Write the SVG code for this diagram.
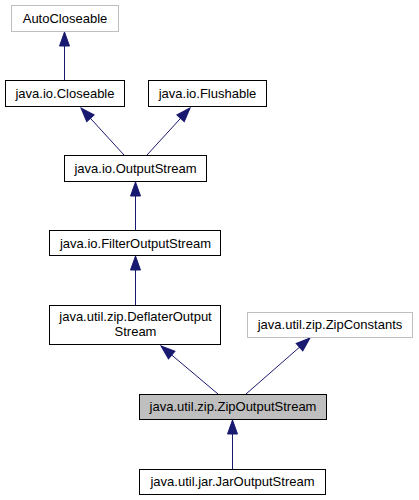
<svg xmlns="http://www.w3.org/2000/svg" width="419" height="500" viewBox="0 0 419 500">
<style>
  .box { fill: #ffffff; stroke: #000000; stroke-width: 1; }
  .ext { fill: #ffffff; stroke: #bfbfbf; stroke-width: 1; }
  .cur { fill: #bfbfbf; stroke: #000000; stroke-width: 1; }
  text { font-family: "Liberation Sans", Arial, sans-serif; font-size: 13px; fill: #000000; text-anchor: middle; }
  .edge { stroke: #191970; stroke-width: 1; fill: none; marker-end: url(#arr); }
</style>
<defs>
  <marker id="arr" markerUnits="userSpaceOnUse" markerWidth="16" markerHeight="12" viewBox="-15 -6 16 12" refX="0" refY="0" orient="auto">
    <path d="M0,0 L-14,-5 L-14,5 Z" fill="#191970" stroke="#191970" stroke-width="1"/>
  </marker>
</defs>
<rect width="419" height="500" fill="#ffffff"/>
<g id="connectors">
  <path class="edge" d="M64.5,80 L64.5,32"/>
  <path class="edge" d="M124,155 L81,108"/>
  <path class="edge" d="M147,155 L190,108"/>
  <path class="edge" d="M135.5,230 L135.5,182"/>
  <path class="edge" d="M135.5,305 L135.5,256"/>
  <path class="edge" d="M218,394 L161,346"/>
  <path class="edge" d="M246,394 L310,338"/>
  <path class="edge" d="M232.5,469 L232.5,420"/>
</g>
<g id="AutoCloseable">
  <rect class="ext" x="11.5" y="5.5" width="107" height="26"/>
  <text x="65" y="23">AutoCloseable</text>
</g>
<g id="Closeable">
  <rect class="box" x="5.5" y="80.5" width="119" height="26"/>
  <text x="65" y="98">java.io.Closeable</text>
</g>
<g id="Flushable">
  <rect class="box" x="148.5" y="80.5" width="118" height="26"/>
  <text x="207.5" y="98">java.io.Flushable</text>
</g>
<g id="OutputStream">
  <rect class="box" x="64.5" y="155.5" width="142" height="26"/>
  <text x="135.5" y="173">java.io.OutputStream</text>
</g>
<g id="FilterOutputStream">
  <rect class="box" x="49.5" y="230.5" width="171" height="25"/>
  <text x="135.5" y="247.5">java.io.FilterOutputStream</text>
</g>
<g id="DeflaterOutputStream">
  <rect class="box" x="49.5" y="305.5" width="171" height="39"/>
  <text x="135.5" y="321">java.util.zip.DeflaterOutput</text>
  <text x="135.5" y="336">Stream</text>
</g>
<g id="ZipConstants">
  <rect class="ext" x="247.5" y="312.5" width="165" height="25"/>
  <text x="330" y="329">java.util.zip.ZipConstants</text>
</g>
<g id="ZipOutputStream">
  <rect class="cur" x="139.5" y="394.5" width="187" height="25"/>
  <text x="233" y="411">java.util.zip.ZipOutputStream</text>
</g>
<g id="JarOutputStream">
  <rect class="box" x="139.5" y="469.5" width="186" height="25"/>
  <text x="232.5" y="486">java.util.jar.JarOutputStream</text>
</g>
</svg>
